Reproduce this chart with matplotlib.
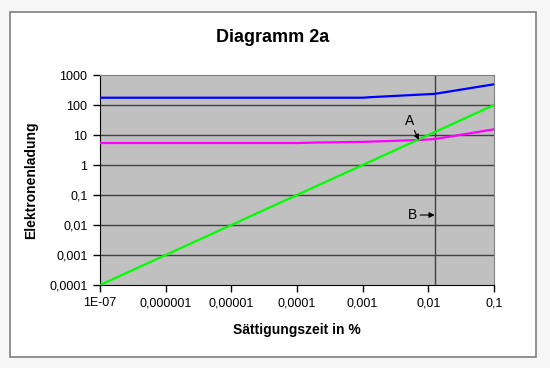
import matplotlib
matplotlib.use("Agg")
import matplotlib.pyplot as plt
from matplotlib.patches import Rectangle

# Daten
x_ticks = [1e-7, 1e-6, 1e-5, 1e-4, 1e-3, 1e-2, 1e-1]
x_labels = ["1E-07", "0,000001", "0,00001", "0,0001", "0,001", "0,01", "0,1"]
y_ticks = [1e-4, 1e-3, 1e-2, 1e-1, 1, 10, 100, 1000]
y_labels = ["0,0001", "0,001", "0,01", "0,1", "1", "10", "100", "1000"]

x_blau = [1e-7, 1e-6, 1e-5, 1e-4, 1e-3, 1.3e-3, 0.0125, 0.1]
y_blau = [175, 175, 175, 175, 175, 182, 235, 490]

x_magenta = [1e-7, 1e-6, 1e-5, 1e-4, 1.9e-4, 1e-3, 0.007, 0.0125, 0.1]
y_magenta = [5.4, 5.4, 5.4, 5.4, 5.6, 5.9, 6.8, 7.3, 15.5]

x_gruen = [1e-7, 1e-6, 1e-5, 1e-4, 1e-3, 1e-2, 1e-1]
y_gruen = [1e-4, 1e-3, 1e-2, 1e-1, 1, 10, 100]

x_b_linie = 0.0125

plt.rcParams['font.family'] = ['Liberation Sans', 'DejaVu Sans']

fig = plt.figure(figsize=(5.5, 3.68), dpi=100)
fig.patch.set_facecolor('#f6f6f6')
W, H = 550.0, 368.0
# Rahmen um das Diagramm
fig.patches.append(Rectangle((10 / W, 1 - 357 / H), 526 / W, 345 / H,
                             transform=fig.transFigure, facecolor='white',
                             edgecolor='#808080', linewidth=1.2, zorder=-10))

ax = fig.add_axes([100 / W, 1 - 285 / H, 394 / W, 210 / H])
ax.set_zorder(1)
ax.set_facecolor('#c0c0c0')
ax.set_xscale('log')
ax.set_yscale('log')
ax.set_xlim(1e-7, 0.1)
ax.set_ylim(1e-4, 1000)

for yt in y_ticks[1:-1]:
    ax.axhline(yt, color='#404040', linewidth=1.0, zorder=1)

ax.plot(x_blau, y_blau, color='#0000ff', linewidth=1.6, zorder=3)
ax.plot(x_magenta, y_magenta, color='#ff00ff', linewidth=1.6, zorder=3)
ax.plot(x_gruen, y_gruen, color='#00ff00', linewidth=1.6, zorder=3)
ax.axvline(x_b_linie, color='#404040', linewidth=1.0, zorder=2)

pfeil = dict(arrowstyle='-|>', color='black', lw=0.8,
             mutation_scale=8, shrinkA=0, shrinkB=0)
ax.annotate("A", xy=(0.0072, 6.8), xytext=(0.0052, 30), fontsize=10,
            ha='center', va='center', arrowprops=pfeil)
ax.annotate("B", xy=(x_b_linie, 0.0215), xytext=(0.0058, 0.0215), fontsize=10,
            ha='center', va='center', arrowprops=pfeil)

ax.set_xticks(x_ticks)
ax.set_xticklabels(x_labels, fontsize=9)
ax.set_yticks(y_ticks)
ax.set_yticklabels(y_labels, fontsize=9)
ax.minorticks_off()
ax.tick_params(axis='both', direction='out', length=5, width=1, color='black', pad=4)
for side in ['top', 'right']:
    ax.spines[side].set_color('#808080')
for side in ['left', 'bottom']:
    ax.spines[side].set_color('black')

ax.set_xlabel("Sättigungszeit in %", fontsize=10, fontweight='bold', labelpad=10)
ax.set_ylabel("Elektronenladung", fontsize=10, fontweight='bold', labelpad=8)
fig.text(273 / W, 1 - 38 / H, "Diagramm 2a", fontsize=13, fontweight='bold',
         ha='center', va='center')

fig.savefig("out.png", dpi=100, facecolor=fig.get_facecolor())
